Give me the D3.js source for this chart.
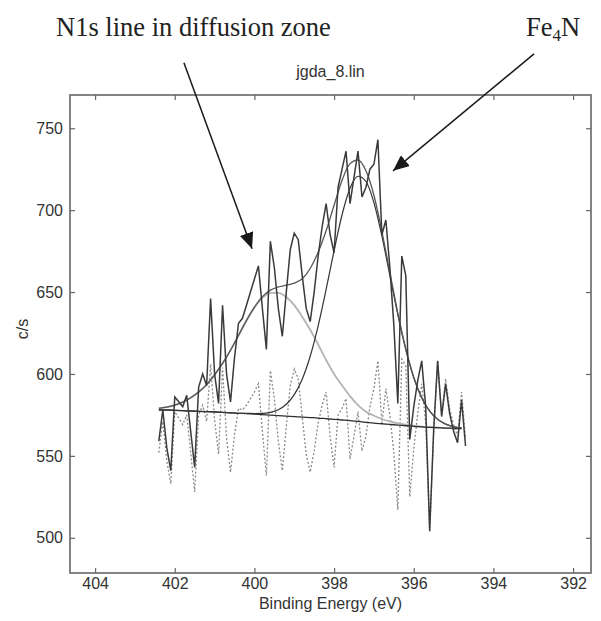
<!DOCTYPE html>
<html>
  <head>
    <meta charset="utf-8">
    <title>jgda_8.lin</title>
    <style>
      body { margin: 0; background: #fff; }
      .axis text { font-family: "Liberation Sans", Arial, sans-serif; font-size: 16px; fill: #333; }
      .lbl { font-family: "Liberation Sans", Arial, sans-serif; font-size: 16px; fill: #333; }
      .note { font-family: "Liberation Serif", "Times New Roman", serif; font-size: 26.5px; fill: #222; }
    </style>
  </head>
  <body>
    <div class="chart-area"></div>

    <script src="https://d3js.org/d3.v7.min.js"></script>
    <script>
      // measured spectrum (binding energy in eV, counts in c/s)
      var energy = [402.4, 402.3, 402.2, 402.1, 402.0, 401.9, 401.8, 401.7, 401.6, 401.5,
                    401.4, 401.3, 401.2, 401.1, 401.0, 400.9, 400.8, 400.7, 400.6, 400.5,
                    400.4, 400.3, 400.2, 400.1, 400.0, 399.9, 399.8, 399.7, 399.6, 399.5,
                    399.4, 399.3, 399.2, 399.1, 399.0, 398.9, 398.8, 398.7, 398.6, 398.5,
                    398.4, 398.3, 398.2, 398.1, 398.0, 397.9, 397.8, 397.7, 397.6, 397.5,
                    397.4, 397.3, 397.2, 397.1, 397.0, 396.9, 396.8, 396.7, 396.6, 396.5,
                    396.4, 396.3, 396.2, 396.1, 396.0, 395.9, 395.8, 395.7, 395.6, 395.5,
                    395.4, 395.3, 395.2, 395.1, 395.0, 394.9, 394.8, 394.7];
      var rawCounts = [559, 578, 555, 541, 586, 583, 580, 587, 565, 543,
                       592, 600, 593, 646, 600, 582, 642, 600, 583, 610,
                       631, 634, 642, 650, 658, 666, 640, 615, 681, 665,
                       640, 623, 650, 676, 686, 682, 660, 640, 632, 650,
                       672, 690, 704, 685, 674, 714, 725, 736, 704, 720,
                       736, 708, 714, 725, 728, 743, 685, 694, 665, 630,
                       582, 672, 660, 560, 580, 596, 608, 580, 504, 566,
                       608, 574, 594, 576, 565, 558, 584, 556];
      // residual (dotted), same energies
      var residual = [552, 571, 547, 533, 577, 573, 569, 575, 552, 528,
                      575, 581, 571, 606, 572, 551, 604, 561, 540, 563,
                      579, 578, 581, 585, 589, 594, 565, 538, 602, 585,
                      559, 541, 568, 593, 603, 597, 574, 551, 540, 553,
                      570, 581, 589, 562, 543, 575, 579, 585, 548, 562,
                      577, 553, 562, 580, 591, 608, 570, 591, 575, 552,
                      517, 609, 605, 525, 554, 576, 594, 570, 504, 563,
                      608, 575, 597, 579, 569, 562, 589, 561];

      // fitted curves
      var fitEnergy = [402.4, 402.2, 402.0, 401.8, 401.6, 401.4, 401.2, 401.0, 400.8, 400.6,
                       400.4, 400.2, 400.0, 399.8, 399.6, 399.4, 399.2, 399.0, 398.8, 398.6,
                       398.4, 398.2, 398.0, 397.8, 397.6, 397.4, 397.2, 397.0, 396.8, 396.6,
                       396.4, 396.2, 396.0, 395.8, 395.6, 395.4, 395.2, 395.0, 394.8];
      var background = [578, 578, 577.8, 577.6, 577.4, 577.2, 577, 576.8, 576.6, 576.3,
                        576, 575.8, 575.5, 575.2, 574.9, 574.6, 574.3, 574, 573.7, 573.4,
                        573.1, 572.7, 572.3, 571.9, 571.5, 571, 570.5, 570, 569.6, 569.2,
                        568.8, 568.4, 568, 567.7, 567.4, 567.2, 567, 566.8, 566.6];
      var peakN1s = [579, 579.8, 581, 582.8, 585.5, 589, 593.5, 599.5, 606.5, 614.5,
                     623.5, 632.5, 640.5, 646.5, 649.5, 649.5, 647, 642, 635, 627,
                     618, 608.5, 600, 593, 586.5, 581, 577, 574.5, 572.5, 571,
                     569.8, 569, 568.4, 567.9, 567.5, 567.2, 567, 566.8, 566.6];
      var peakFe4N = [578, 578, 577.8, 577.6, 577.4, 577.2, 577, 576.8, 576.6, 576.3,
                      576, 576, 575.8, 575.9, 576.6, 578.2, 581.5, 587.4, 596.8, 610.8,
                      629.4, 651.6, 675.3, 697.2, 713.4, 720.7, 717.5, 704.6, 684.2, 660.2,
                      636.2, 614.8, 597.7, 585.4, 577.3, 572.3, 569.4, 567.9, 567.1];
      var envelope = [579, 579.8, 581, 582.8, 585.5, 589, 593.5, 599.5, 606.5, 614.5,
                      623.5, 632.7, 640.8, 647.2, 651.2, 653.1, 654.2, 655.4, 658.1, 664.4,
                      674.3, 687.4, 703, 718.3, 728.4, 730.7, 724, 709.1, 687.1, 662,
                      637.2, 615.4, 598.1, 585.6, 577.3, 572.3, 569.4, 567.9, 567.1];

      var xTicks = [404, 402, 400, 398, 396, 394, 392];
      var yTicks = [500, 550, 600, 650, 700, 750];

      // annotation arrows: [tail, tip] in data units
      var arrowN1s = [[401.77, 790], [400.06, 676.5]];
      var arrowFe4N = [[392.98, 795.4], [396.52, 724]];

      var margin = {top: 95, right: 10, bottom: 48, left: 70},
          width = 601 - margin.left - margin.right,
          height = 621 - margin.top - margin.bottom;

      var svgRoot = d3.select(".chart-area")
        .append("svg")
          .attr("width", 601)
          .attr("height", 621);

      var defs = svgRoot.append("defs");
      defs.append("marker")
          .attr("id", "head")
          .attr("viewBox", "0 0 16 14")
          .attr("refX", 16).attr("refY", 7)
          .attr("markerWidth", 16).attr("markerHeight", 14)
          .attr("markerUnits", "userSpaceOnUse")
          .attr("orient", "auto")
        .append("path")
          .attr("d", "M0,0 L16,7 L0,14 Z")
          .attr("fill", "#1a1a1a");

      var svg = svgRoot.append("g")
          .attr("transform", "translate(" + margin.left + "," + margin.top + ")");

      // reversed energy axis
      var x = d3.scaleLinear().domain([404.63, 391.55]).range([0, width]);
      var y = d3.scaleLinear().domain([478.5, 770.3]).range([height, 0]);

      // ticks inside the box on all four sides
      svg.append("g").attr("class", "axis")
          .attr("transform", "translate(0," + height + ")")
          .call(d3.axisBottom(x).tickValues(xTicks).tickSizeInner(-5).tickSizeOuter(0).tickPadding(5));
      svg.append("g").attr("class", "axis")
          .call(d3.axisLeft(y).tickValues(yTicks).tickSizeInner(-5).tickSizeOuter(0).tickPadding(7));
      svg.append("g").attr("class", "axis")
          .call(d3.axisTop(x).tickValues(xTicks).tickSizeInner(-5).tickSizeOuter(0).tickFormat(""));
      svg.append("g").attr("class", "axis")
          .attr("transform", "translate(" + width + ",0)")
          .call(d3.axisRight(y).tickValues(yTicks).tickSizeInner(-5).tickSizeOuter(0).tickFormat(""));
      svg.selectAll(".axis .domain").remove();
      svg.selectAll(".axis line").attr("stroke", "#666").attr("stroke-width", 1.2);

      svg.append("rect")
          .attr("width", width).attr("height", height)
          .attr("fill", "none").attr("stroke", "#666").attr("stroke-width", 1.6);

      var plot = svg.append("g");

      var rawLine = d3.line()
          .x(function(d, i) { return x(energy[i]); })
          .y(function(d) { return y(d); });
      var fitLine = d3.line()
          .curve(d3.curveMonotoneX)
          .x(function(d, i) { return x(fitEnergy[i]); })
          .y(function(d) { return y(d); });

      plot.append("path").datum(residual)
          .attr("d", rawLine)
          .attr("fill", "none").attr("stroke", "#8a8a8a")
          .attr("stroke-width", 1.3).attr("stroke-dasharray", "2,2");

      plot.append("path").datum(peakN1s)
          .attr("d", fitLine)
          .attr("fill", "none").attr("stroke", "#b4b4b4").attr("stroke-width", 1.8);

      plot.append("path").datum(background)
          .attr("d", fitLine)
          .attr("fill", "none").attr("stroke", "#2e2e2e").attr("stroke-width", 1.3);

      plot.append("path").datum(peakFe4N)
          .attr("d", fitLine)
          .attr("fill", "none").attr("stroke", "#333").attr("stroke-width", 1.2);

      plot.append("path").datum(envelope)
          .attr("d", fitLine)
          .attr("fill", "none").attr("stroke", "#555").attr("stroke-width", 1.3);

      plot.append("path").datum(rawCounts)
          .attr("d", rawLine)
          .attr("fill", "none").attr("stroke", "#3a3a3a")
          .attr("stroke-width", 1.5).attr("stroke-linejoin", "miter");

      // titles
      svgRoot.append("text").attr("class", "lbl")
          .attr("x", margin.left + width / 2).attr("y", 77)
          .attr("text-anchor", "middle")
          .text("jgda_8.lin");
      svgRoot.append("text").attr("class", "lbl")
          .attr("x", margin.left + width / 2).attr("y", 609)
          .attr("text-anchor", "middle")
          .text("Binding Energy (eV)");
      svgRoot.append("text").attr("class", "lbl")
          .attr("transform", "translate(28,329) rotate(-90)")
          .attr("text-anchor", "middle")
          .text("c/s");

      // annotations
      svgRoot.append("text").attr("class", "note")
          .attr("x", 56).attr("y", 36)
          .text("N1s line in diffusion zone");
      var fe = svgRoot.append("text").attr("class", "note")
          .attr("x", 526).attr("y", 36);
      fe.append("tspan").text("Fe");
      fe.append("tspan").attr("dy", 5).style("font-size", "17px").text("4");
      fe.append("tspan").attr("dy", -5).text("N");

      [arrowN1s, arrowFe4N].forEach(function(a) {
        svg.append("line")
            .attr("x1", x(a[0][0])).attr("y1", y(a[0][1]))
            .attr("x2", x(a[1][0])).attr("y2", y(a[1][1]))
            .attr("stroke", "#1a1a1a").attr("stroke-width", 1.5)
            .attr("marker-end", "url(#head)");
      });
    </script>
  </body>
</html>
